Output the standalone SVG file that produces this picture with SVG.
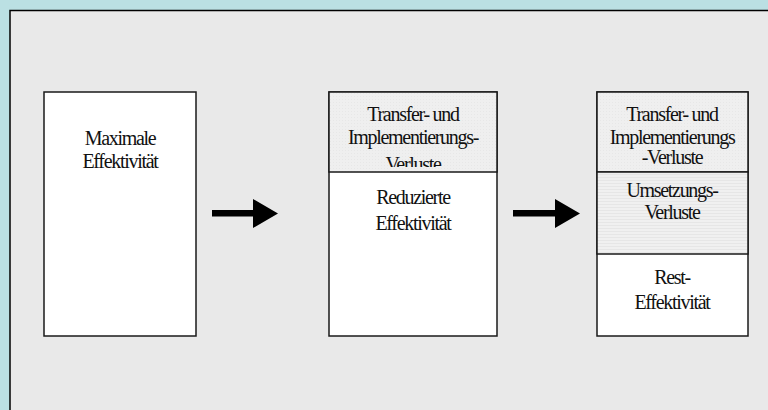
<svg xmlns="http://www.w3.org/2000/svg" width="768" height="410" viewBox="0 0 768 410">
<defs>
<style>
.box{stroke:#1a1a1a;stroke-width:1.5}
.t{font-family:"Liberation Serif","Times New Roman",serif;font-size:20px;fill:#111;text-anchor:middle;letter-spacing:-1.3px}
.arrow{fill:#000}
</style>
<pattern id="hl" width="4" height="3" patternUnits="userSpaceOnUse">
<rect width="4" height="3" fill="#f0f0f0"/>
<rect width="4" height="1" fill="#e6e6e6"/>
</pattern>
<pattern id="dt" width="3" height="3" patternUnits="userSpaceOnUse">
<rect width="3" height="3" fill="#efefef"/>
<rect width="1" height="1" fill="#e7e7e7"/>
</pattern>
<clipPath id="c2"><rect x="329" y="92" width="168" height="75"/></clipPath>
</defs>
<rect width="768" height="410" fill="#bbe0e3"/>
<rect x="10" y="10.5" width="800" height="500" fill="#e9e9e9" stroke="#000" stroke-width="1.5"/>
<g id="box1">
<rect class="box" x="44" y="92" width="152" height="244" fill="#fff"/>
<text class="t" x="120" y="145">Maximale</text>
<text class="t" x="120" y="168">Effektivität</text>
</g>
<g id="box2">
<rect class="box" x="329" y="92" width="168" height="244" fill="#fff"/>
<rect class="box" x="329" y="92" width="168" height="80" fill="url(#dt)"/>
<g clip-path="url(#c2)">
<text class="t" x="413" y="121">Transfer- und</text>
<text class="t" x="413" y="144">Implementierungs-</text>
<text class="t" x="413" y="171">Verluste</text>
</g>
<text class="t" x="413" y="204">Reduzierte</text>
<text class="t" x="413" y="230">Effektivität</text>
</g>
<g id="box3">
<rect class="box" x="597" y="92" width="151" height="244" fill="#fff"/>
<rect class="box" x="597" y="92" width="151" height="80" fill="url(#dt)"/>
<rect class="box" x="597" y="172" width="151" height="82" fill="url(#hl)"/>
<text class="t" x="672" y="121">Transfer- und</text>
<text class="t" x="672" y="144">Implementierungs</text>
<text class="t" x="672" y="164">-Verluste</text>
<text class="t" x="672" y="197">Umsetzungs-</text>
<text class="t" x="672" y="219">Verluste</text>
<text class="t" x="672" y="284">Rest-</text>
<text class="t" x="672" y="309">Effektivität</text>
</g>
<g id="connectors">
<polygon class="arrow" points="212,210 253,210 253,199 278,213.5 253,228 253,216.5 212,216.5"/>
<polygon class="arrow" points="513,210 555,210 555,199 580,213.5 555,228 555,216.5 513,216.5"/>
</g>
</svg>
